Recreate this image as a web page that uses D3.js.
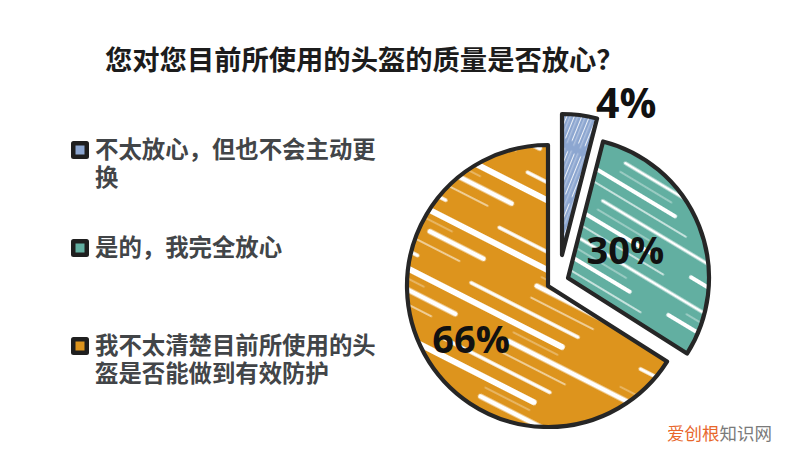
<!DOCTYPE html>
<html><head><meta charset="utf-8">
<script src="https://cdn.jsdelivr.net/npm/d3@7"></script>
<style>html,body{margin:0;padding:0;background:#fff;}svg{display:block;}</style>
</head><body>
<script>
// ---- data ----
const title = "您对您目前所使用的头盔的质量是否放心？";
const categories = [
  ["不太放心，但也不会主动更", "换"],
  ["是的，我完全放心"],
  ["我不太清楚目前所使用的头", "盔是否能做到有效防护"]
];
const values = [4, 30, 66];
const valueLabels = ["4%", "30%", "66%"];
const colors = ["#8CA6D0", "#62AFA1", "#DD941D"];
const watermark = ["爱创根", "知识网"];

// ---- layout/style ----
const W = 800, H = 459;
const cx = 548, cy = 286, R = 141;
const explode = [[14, -31], [20, -8], [0, 0]];
const labelPos = [{da: 15.8, f: 1.165, fs: 41}, {da: -3.8, f: 0.45, fs: 38}, {da: -6.2, f: 0.665, fs: 38}];
const legendY = [158, 256, 354];
const lineH = 27.5;

const svg = d3.select("body").append("svg").attr("width", W).attr("height", H);
const defs = svg.append("defs");

function makePattern(id, color, angle, pw, ph, stripes) {
  const p = defs.append("pattern").attr("id", id).attr("patternUnits", "userSpaceOnUse")
    .attr("width", pw).attr("height", ph).attr("patternTransform", `rotate(${angle})`);
  p.append("rect").attr("width", pw).attr("height", ph).attr("fill", color);
  stripes.forEach(s => {
    p.append("line").attr("x1", -10).attr("x2", pw + 10).attr("y1", s.y).attr("y2", s.y)
      .attr("stroke", "#fff").attr("stroke-width", s.w).attr("stroke-linecap", "round")
      .attr("stroke-dasharray", s.d || null).attr("stroke-dashoffset", s.o || 0)
      .attr("opacity", s.op || 1);
  });
}
makePattern("pBlue", colors[0], -68, 200, 7, [
  {y: 1.5, w: 1.2, d: "60 8 40 12", op: 0.85}, {y: 4.8, w: 0.7, d: "30 10 70 6", op: 0.6}
]);
makePattern("pTeal", colors[1], 31, 280, 44, [
  {y: 4, w: 3.2, d: "150 40 50 40"}, {y: 14, w: 1.2, d: "60 70 90 60", op: 0.7},
  {y: 24, w: 4, d: "110 45 70 55", o: 40}, {y: 36, w: 1.6, d: "180 100", o: 90, op: 0.85}
]);
makePattern("pOrange", colors[2], 27, 340, 62, [
  {y: 5, w: 5, d: "170 50 60 60"}, {y: 18, w: 1.3, d: "70 90 100 80", op: 0.7},
  {y: 32, w: 3.5, d: "120 70 90 60", o: 60}, {y: 48, w: 6, d: "200 140", o: 150},
  {y: 57, w: 1, d: "50 70 120 100", op: 0.6}
]);
const fills = ["url(#pBlue)", "url(#pTeal)", "url(#pOrange)"];

// title
svg.append("text").attr("x", 105).attr("y", 70)
  .attr("font-family", "'Noto Sans CJK SC', sans-serif").attr("font-weight", 700)
  .attr("font-size", 27.3).attr("fill", "#1c1c1c").text(title);

// legend
const lg = svg.append("g");
categories.forEach((lines, i) => {
  const y = legendY[i];
  lg.append("rect").attr("x", 71).attr("y", y - 17).attr("width", 18).attr("height", 18)
    .attr("rx", 2.5).attr("fill", "#1f1f1f");
  lg.append("rect").attr("x", 75.5).attr("y", y - 12.5).attr("width", 9).attr("height", 9)
    .attr("fill", colors[i]);
  lines.forEach((l, j) => {
    lg.append("text").attr("x", 95).attr("y", y + j * lineH)
      .attr("font-family", "'Noto Sans CJK SC', sans-serif")
      .attr("font-weight", 700).attr("font-size", 23.4).attr("fill", "#424548").text(l);
  });
});

// pie
const pie = d3.pie().sort(null).startAngle(0).endAngle(2 * Math.PI)(values);
const arc = d3.arc().innerRadius(0).outerRadius(R);
const g = svg.append("g").attr("transform", `translate(${cx},${cy})`);
pie.forEach((d, i) => {
  const sg = g.append("g").attr("transform", `translate(${explode[i][0]},${explode[i][1]})`);
  sg.append("path").attr("d", arc(d)).attr("fill", fills[i])
    .attr("stroke", "#262626").attr("stroke-width", 4.2).attr("stroke-linejoin", "round");
  const lp = labelPos[i];
  const a = (d.startAngle + d.endAngle) / 2 + lp.da * Math.PI / 180;
  const r = lp.f * R;
  const x = Math.sin(a) * r, y = -Math.cos(a) * r;
  sg.append("text").attr("x", x).attr("y", y + 0.357 * lp.fs).attr("text-anchor", "middle")
    .attr("font-family", "'Open Sans', sans-serif").attr("font-weight", 700)
    .attr("font-size", lp.fs).attr("fill", "#111").text(valueLabels[i]);
});

// watermark
const wm = svg.append("text").attr("x", 667).attr("y", 440)
  .attr("font-family", "'Noto Sans CJK SC', sans-serif").attr("font-size", 17.5);
wm.append("tspan").attr("fill", "#E8672C").text(watermark[0]);
wm.append("tspan").attr("fill", "#7a7a7a").text(watermark[1]);
</script>
</body></html>
